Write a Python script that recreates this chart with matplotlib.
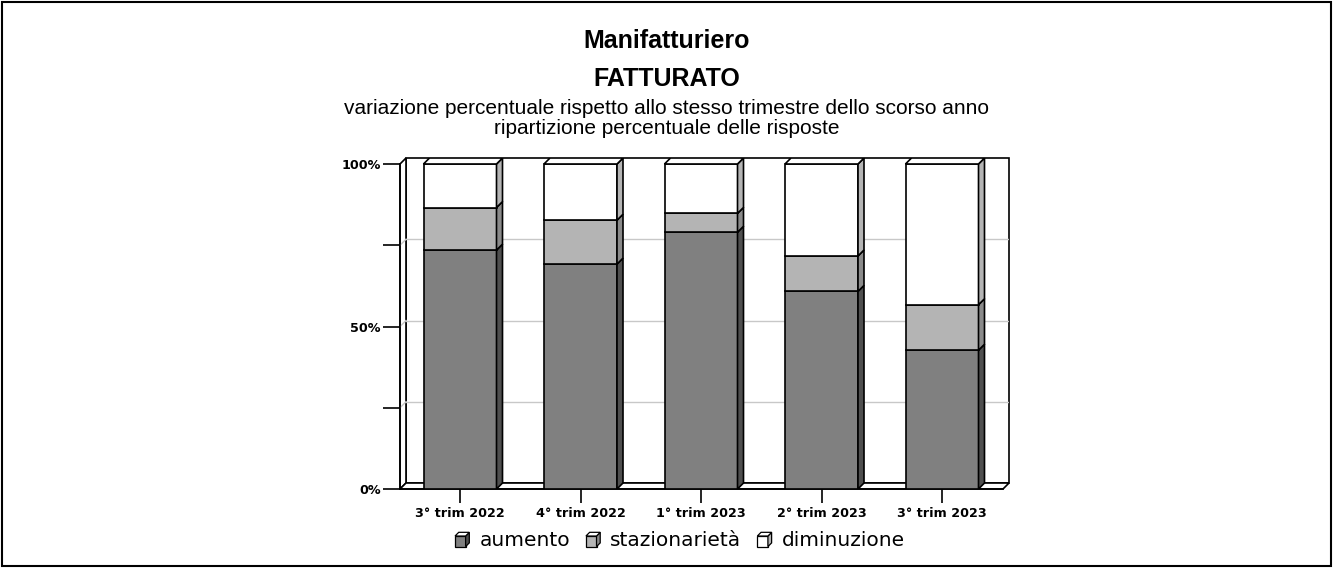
import numpy as np
import matplotlib
matplotlib.use("Agg")
import matplotlib.pyplot as plt
from matplotlib.patches import Rectangle, Polygon
from matplotlib.legend_handler import HandlerBase

# data (percent of answers)
categories = ["3° trim 2022", "4° trim 2022", "1° trim 2023", "2° trim 2023", "3° trim 2023"]
aumento = [73.5, 69.2, 79.0, 60.8, 42.7]
stazionarieta = [13.1, 13.5, 5.8, 10.9, 14.0]
diminuzione = [13.4, 17.3, 15.2, 28.3, 43.3]
series_names = ["aumento", "stazionarietà", "diminuzione"]
yticks = [0, 25, 50, 75, 100]
yticklabels = ["0%", "", "50%", "", "100%"]

front_cols = ["#808080", "#b4b4b4", "#ffffff"]
side_cols = ["#4f4f4f", "#8a8a8a", "#b4b4b4"]

W, H = 1333, 568
fig = plt.figure(figsize=(W / 100, H / 100), dpi=100)

# frame around the picture
fig.patches.append(Rectangle((2 / W, 2 / H), 1 - 4 / W, 1 - 4 / H, transform=fig.transFigure,
                             fill=False, lw=1.5, ec="black"))

tfont = "Liberation Sans"
fig.text(0.5, 1 - 48 / H, "Manifatturiero", ha="center", va="baseline", fontsize=18,
         fontweight="bold", family=tfont)
fig.text(0.5, 1 - 86 / H, "FATTURATO", ha="center", va="baseline", fontsize=18,
         fontweight="bold", family=tfont)
fig.text(0.5, 1 - 114 / H, "variazione percentuale rispetto allo stesso trimestre dello scorso anno",
         ha="center", va="baseline", fontsize=15, family=tfont)
fig.text(0.5, 1 - 134 / H, "ripartizione percentuale delle risposte",
         ha="center", va="baseline", fontsize=15, family=tfont)

# plot area (front plane 0..100%, plus room for the depth)
x0, x1, ytop, ybot = 400, 1009, 158, 489
ax = fig.add_axes([x0 / W, 1 - ybot / H, (x1 - x0) / W, (ybot - ytop) / H])
ppu_y = 3.25           # pixels per percent
ppu_x = 120.5          # pixels per category
dy = 6 / ppu_y
dx = 6 / ppu_x
xmin = -60 / ppu_x
xmax = xmin + (x1 - x0) / ppu_x
ax.set_xlim(xmin, xmax)
ax.set_ylim(0, 100 + dy)
ax.patch.set_visible(False)
for s in ["top", "right"]:
    ax.spines[s].set_visible(False)
ax.spines["left"].set_bounds(0, 100)
ax.spines["bottom"].set_bounds(xmin, xmax - dx)
ax.spines["left"].set_linewidth(1.2)
ax.spines["bottom"].set_linewidth(1.2)

# back wall, left wall and floor
ax.add_patch(Rectangle((xmin + dx, dy), xmax - xmin - dx, 100, fill=False, ec="black", lw=1.2, clip_on=False))
ax.add_patch(Polygon([(xmin, 0), (xmin + dx, dy), (xmin + dx, 100 + dy), (xmin, 100)],
                     closed=True, fc="white", ec="black", lw=1.2, clip_on=False))
ax.add_patch(Polygon([(xmin, 0), (xmin + dx, dy), (xmax, dy), (xmax - dx, 0)],
                     closed=True, fc="white", ec="black", lw=1.2, clip_on=False))
for v in yticks[1:-1]:
    ax.plot([xmin + dx, xmax], [v + dy, v + dy], color="#c8c8c8", lw=1, zorder=1)
    ax.plot([xmin, xmin + dx], [v, v + dy], color="#c8c8c8", lw=1, zorder=1)

# 3d stacked bars
bw = 73 / ppu_x
stack = np.array([aumento, stazionarieta, diminuzione])
bottoms = np.vstack([np.zeros(len(categories)), np.cumsum(stack, axis=0)[:-1]])
for i in range(len(categories)):
    for k in range(3):
        b = bottoms[k, i]
        h = stack[k, i]
        t = b + h
        ax.add_patch(Rectangle((i - bw / 2, b), bw, h, fc=front_cols[k], ec="black", lw=1.2, zorder=3))
        ax.add_patch(Polygon([(i + bw / 2, b), (i + bw / 2 + dx, b + dy), (i + bw / 2 + dx, t + dy),
                              (i + bw / 2, t)], closed=True, fc=side_cols[k], ec="black", lw=1.2, zorder=3))
    top = bottoms[-1, i] + stack[-1, i]
    ax.add_patch(Polygon([(i - bw / 2, top), (i - bw / 2 + dx, top + dy), (i + bw / 2 + dx, top + dy),
                          (i + bw / 2, top)], closed=True, fc="white", ec="black", lw=1.2, zorder=3))

ax.set_yticks(yticks)
ax.set_yticklabels(yticklabels, fontsize=9.2, fontweight="bold")
ax.set_xticks(range(len(categories)))
ax.set_xticklabels(categories, fontsize=9.2, fontweight="bold")
ax.tick_params(axis="y", length=12, width=1.2, pad=2)
ax.tick_params(axis="x", length=10, width=1.2, pad=3)


# legend with small cube icons
class CubeHandler(HandlerBase):
    def __init__(self, fc, sc):
        super().__init__()
        self.fc, self.sc = fc, sc

    def create_artists(self, legend, orig_handle, xdescent, ydescent, width, height, fontsize, trans):
        s = height * 0.75
        d = s * 0.35
        xa = width - s - d
        ya = -ydescent + (height - s - d) / 2
        front = Rectangle((xa, ya), s, s, fc=self.fc, ec="black", lw=0.9, transform=trans)
        side = Polygon([(xa + s, ya), (xa + s + d, ya + d), (xa + s + d, ya + s + d), (xa + s, ya + s)],
                       closed=True, fc=self.sc, ec="black", lw=0.9, transform=trans)
        lid = Polygon([(xa, ya + s), (xa + d, ya + s + d), (xa + s + d, ya + s + d), (xa + s, ya + s)],
                      closed=True, fc="white", ec="black", lw=0.9, transform=trans)
        return [front, side, lid]


handles = [Rectangle((0, 0), 1, 1) for _ in series_names]
hmap = {h: CubeHandler(front_cols[k], side_cols[k]) for k, h in enumerate(handles)}
fig.legend(handles, series_names, handler_map=hmap, loc="center", bbox_to_anchor=(678 / W, 1 - 541 / H),
           ncol=3, frameon=False, fontsize=14.5, handlelength=0.9, handletextpad=0.5, columnspacing=0.6)

fig.savefig("out.png", dpi=100)
